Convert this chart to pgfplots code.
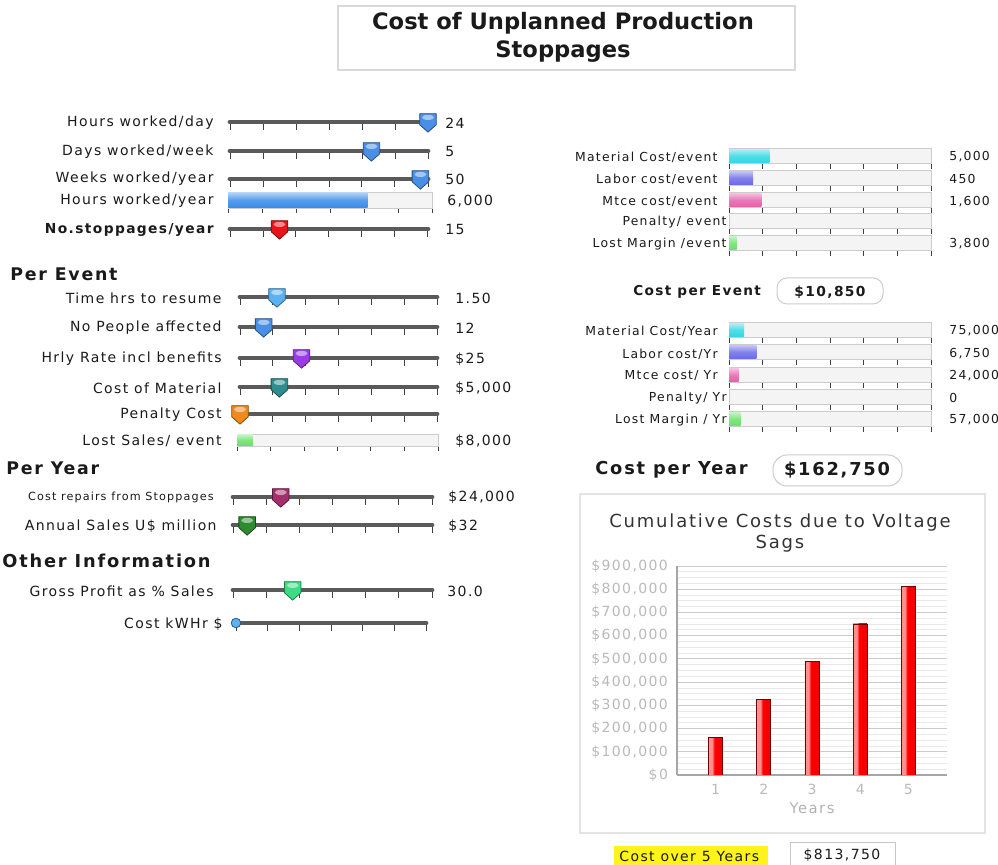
\documentclass[border=0pt]{standalone}
\usepackage{fontspec}
\setmainfont{DejaVu Sans}[LetterSpace=10]
\newfontfamily\tight{DejaVu Sans}
\usepackage{pgfplots}
\pgfplotsset{compat=1.18}

\newcommand\px[2]{({(#1)*0.5pt},{-(#2)*0.5pt})}
\newcommand\fs[1]{\fontsize{#1}{#1}\selectfont}

\definecolor{txt}{HTML}{1A1A1A}
\definecolor{kblue}{HTML}{4A8FE6}
\definecolor{klblue}{HTML}{5BB2F2}
\definecolor{kred}{HTML}{E8141A}
\definecolor{kpurple}{HTML}{9A3CE6}
\definecolor{kteal}{HTML}{2E8E8E}
\definecolor{korange}{HTML}{F08A1E}
\definecolor{kmaroon}{HTML}{A3306C}
\definecolor{kdgreen}{HTML}{2E8B30}
\definecolor{kgreen}{HTML}{3DDC84}
\definecolor{bblue}{HTML}{3A8CEA}
\definecolor{bgreen}{HTML}{6BE06B}
\definecolor{bcyan}{HTML}{2FD8E2}
\definecolor{bslate}{HTML}{6B6BE6}
\definecolor{bpink}{HTML}{E462AA}
\definecolor{track}{HTML}{5A5A5A}

\pgfdeclarehorizontalshading{redbar}{100bp}{color(0bp)=(red!50!black); color(8bp)=(red!40); color(38bp)=(red!45); color(46bp)=(red); color(86bp)=(red!92!black); color(100bp)=(red!45!black)}

\pgfdeclareplotmark{knob}{%
  \begin{pgfscope}%
  \pgfsetcornersarced{\pgfqpoint{1.1pt}{1.1pt}}%
  \pgfpathmoveto{\pgfqpoint{0pt}{0.9\pgfplotmarksize}}%
  \pgfpathlineto{\pgfqpoint{0.9\pgfplotmarksize}{0.9\pgfplotmarksize}}%
  \pgfpathlineto{\pgfqpoint{0.9\pgfplotmarksize}{-0.3\pgfplotmarksize}}%
  \pgfpathlineto{\pgfqpoint{0pt}{-1.1\pgfplotmarksize}}%
  \pgfpathlineto{\pgfqpoint{-0.9\pgfplotmarksize}{-0.3\pgfplotmarksize}}%
  \pgfpathlineto{\pgfqpoint{-0.9\pgfplotmarksize}{0.9\pgfplotmarksize}}%
  \pgfpathclose
  \pgfusepathqfillstroke
  \end{pgfscope}%
  \begin{pgfscope}%
  \pgfsetfillopacity{0.5}\pgfsetfillcolor{white}%
  \pgfpathellipse{\pgfqpoint{0pt}{0.5\pgfplotmarksize}}{\pgfqpoint{0.65\pgfplotmarksize}{0pt}}{\pgfqpoint{0pt}{0.28\pgfplotmarksize}}%
  \pgfusepathqfill
  \end{pgfscope}%
}

\pgfplotsset{
  slider/.style={scale only axis, height=2pt, anchor=south west, xmin=0, ymin=0, ymax=1,
    axis x line=bottom, axis y line=none, ytick=\empty,
    x axis line style={-, line width=2.4pt, line cap=round, color=track},
    xticklabels={,,,,,,,}, scaled x ticks=false, tick align=outside, major tick length=3.9pt,
    tick style={black!75, line width=0.5pt}, clip=false},
  pbar/.style={scale only axis, anchor=south west, xmin=0, ymin=0, ymax=1,
    axis background/.style={fill=gray!9}, axis line style={gray!40, line width=0.4pt},
    ytick=\empty, xticklabels={,,,,,,,}, scaled x ticks=false, tick align=outside, xtick pos=bottom,
    major tick length=2.6pt, tick style={black!75, line width=0.5pt}, clip=false},
  redbars/.style={ybar, bar width=7pt, bar shift=0pt, shade, shading=redbar, draw=red!45!black, line width=0.3pt, mark=none},
}

\newcommand\ticklist[1]{%
  \begingroup
  \pgfkeys{/pgf/fpu=true,/pgf/fpu/output format=fixed}%
  \pgfmathsetmacro\ta{#1/6}\pgfmathsetmacro\tb{#1/3}\pgfmathsetmacro\tc{#1/2}%
  \pgfmathsetmacro\td{2*#1/3}\pgfmathsetmacro\te{5*#1/6}%
  \xdef\tlist{0,\ta,\tb,\tc,\td,\te,#1}%
  \endgroup}

% #1 x0, #2 x1, #3 y, #4 max, #5 value, #6 colour
\newcommand\slider[6]{%
  \pgfmathsetlengthmacro\sw{((#2)-(#1))*0.5pt}%
  \pgfmathsetlengthmacro\ax{(#1)*0.5pt}%
  \pgfmathsetlengthmacro\ay{-(#3)*0.5pt}%
  \ticklist{#4}%
  \begin{axis}[slider, at={(\ax,\ay)}, width=\sw, xmax=#4, xtick/.expanded={\tlist}]
    \addplot[only marks, mark=knob, mark size=4.6pt, mark options={fill=#6, draw=#6!55!black, line width=0.4pt}] coordinates {(#5,0)};
  \end{axis}}

% #1 x0, #2 x1, #3 y centre, #4 max, #5 value, #6 colour, #7 height px
\newcommand\pbar[7]{%
  \pgfmathsetlengthmacro\sw{((#2)-(#1))*0.5pt}%
  \pgfmathsetlengthmacro\sh{(#7)*0.5pt}%
  \pgfmathsetlengthmacro\bw{(#7)*0.5pt-0.8pt}%
  \pgfmathsetlengthmacro\ax{(#1)*0.5pt}%
  \pgfmathsetlengthmacro\ay{-((#3)+(#7)/2)*0.5pt}%
  \ticklist{#4}%
  \begin{axis}[pbar, at={(\ax,\ay)}, width=\sw, height=\sh, xmax=#4, xtick/.expanded={\tlist}]
    \ifnum#5=0 \else
    \addplot[xbar, bar width=\bw, draw=none, top color=#6!40, bottom color=#6, middle color=#6!85] coordinates {(#5,0.5)};
    \fi
  \end{axis}}

\begin{document}
\begin{tikzpicture}[text=txt]
\path[use as bounding box] \px{0}{0} rectangle \px{998}{865};

% ---------- title ----------
\draw[gray!30, line width=0.6pt] \px{338}{6} rectangle \px{795}{70};
\node[align=center, font={\tight\bfseries\fs{11.3pt}}, inner sep=0pt] at \px{563}{37} {Cost of Unplanned Production\\[2.6pt]Stoppages};

% ---------- left group 1 ----------
\begin{scope}[every node/.style={inner sep=0pt, font=\fs{7pt}}]
\node[anchor=east] at \px{214}{123} {Hours worked/day};
\node[anchor=east] at \px{214}{152} {Days worked/week};
\node[anchor=east] at \px{214}{179} {Weeks worked/year};
\node[anchor=east] at \px{214}{201} {Hours worked/year};
\node[anchor=east, font=\bfseries\fs{6.9pt}] at \px{214}{230} {No.stoppages/year};
\node[anchor=west] at \px{445}{123} {24};
\node[anchor=west] at \px{445}{152} {5};
\node[anchor=west] at \px{445}{179} {50};
\node[anchor=west] at \px{447}{201} {6,000};
\node[anchor=west] at \px{445}{230} {15};

\node[anchor=west, font=\bfseries\fs{8.7pt}] at \px{10}{274} {Per Event};
\node[anchor=east] at \px{222}{298} {Time hrs to resume};
\node[anchor=east] at \px{222}{328} {No People affected};
\node[anchor=east] at \px{222}{359} {Hrly Rate incl benefits};
\node[anchor=east] at \px{222}{388} {Cost of Material};
\node[anchor=east] at \px{222}{415} {Penalty Cost};
\node[anchor=east] at \px{222}{441} {Lost Sales/ event};
\node[anchor=west] at \px{455}{298} {1.50};
\node[anchor=west] at \px{455}{328} {12};
\node[anchor=west] at \px{455}{359} {\$25};
\node[anchor=west] at \px{455}{388} {\$5,000};
\node[anchor=west] at \px{455}{441} {\$8,000};

\node[anchor=west, font=\bfseries\fs{8.7pt}] at \px{6}{468} {Per Year};
\node[anchor=east, font=\fs{5.6pt}] at \px{214}{497} {Cost repairs from Stoppages};
\node[anchor=east] at \px{217}{526} {Annual Sales U\$ million};
\node[anchor=west] at \px{448}{497} {\$24,000};
\node[anchor=west] at \px{448}{526} {\$32};

\node[anchor=west, font=\bfseries\fs{8.9pt}] at \px{2}{561} {Other Information};
\node[anchor=east] at \px{214}{591} {Gross Profit as \% Sales};
\node[anchor=east] at \px{223}{624} {Cost kWHr \$};
\node[anchor=west] at \px{447}{591} {30.0};
\end{scope}

\slider{230}{428}{122}{24}{24}{kblue}
\slider{230}{428}{151}{7}{5}{kblue}
\slider{230}{428}{179}{52}{50}{kblue}
\pbar{228}{432}{200}{8760}{6000}{bblue}{16}
\slider{230}{428}{229}{60}{15}{kred}

\slider{240}{437}{297}{8}{1.5}{klblue}
\slider{240}{437}{327}{100}{12}{kblue}
\slider{240}{437}{358}{80}{25}{kpurple}
\slider{240}{437}{387}{25000}{5000}{kteal}
\slider{240}{437}{414}{10000}{0}{korange}
\pbar{237}{438}{440}{100000}{8000}{bgreen}{12}

\slider{233}{432}{497}{100000}{24000}{kmaroon}
\slider{233}{432}{525}{450}{32}{kdgreen}
\slider{233}{432}{590}{100}{30}{kgreen}

\ticklist{1}
\begin{axis}[slider, at={(118pt,-311.5pt)}, width=95pt, xmax=1, xtick/.expanded={\tlist}]
  \addplot[only marks, mark=*, mark size=2.4pt, mark options={fill=klblue, draw=kblue!60!black, line width=0.4pt}] coordinates {(0,0)};
\end{axis}

% ---------- right: per event ----------
\begin{scope}[every node/.style={inner sep=0pt, font=\fs{6.2pt}}]
\node[anchor=east] at \px{718}{157} {Material Cost/event};
\node[anchor=east] at \px{718}{179} {Labor cost/event};
\node[anchor=east] at \px{718}{202} {Mtce cost/event};
\node[anchor=east] at \px{727}{222} {Penalty/ event};
\node[anchor=east] at \px{727}{244} {Lost Margin /event};
\node[anchor=west] at \px{949}{157} {5,000};
\node[anchor=west] at \px{949}{179} {450};
\node[anchor=west] at \px{949}{202} {1,600};
\node[anchor=west] at \px{949}{244} {3,800};

\node[anchor=east] at \px{718}{331} {Material Cost/Year};
\node[anchor=east] at \px{718}{354} {Labor cost/Yr};
\node[anchor=east] at \px{718}{376} {Mtce cost/ Yr};
\node[anchor=east] at \px{727}{398} {Penalty/ Yr};
\node[anchor=east] at \px{727}{420} {Lost Margin / Yr};
\node[anchor=west] at \px{949}{331} {75,000};
\node[anchor=west] at \px{949}{354} {6,750};
\node[anchor=west] at \px{949}{376} {24,000};
\node[anchor=west] at \px{949}{398} {0};
\node[anchor=west] at \px{949}{420} {57,000};
\end{scope}

\pbar{729}{931}{156}{25000}{5000}{bcyan}{15}
\pbar{729}{931}{178}{3750}{450}{bslate}{15}
\pbar{729}{931}{200}{10000}{1600}{bpink}{15}
\pbar{729}{931}{221}{10000}{0}{bpink}{15}
\pbar{729}{931}{243}{100000}{3800}{bgreen}{15}

\pbar{729}{931}{330}{1000000}{75000}{bcyan}{15}
\pbar{729}{931}{352}{50000}{6750}{bslate}{15}
\pbar{729}{931}{375}{500000}{24000}{bpink}{15}
\pbar{729}{931}{397}{10000}{0}{bpink}{15}
\pbar{729}{931}{419}{1000000}{57000}{bgreen}{15}

% ---------- totals ----------
\node[anchor=west, inner sep=0pt, font=\bfseries\fs{6.8pt}] at \px{633}{292} {Cost per Event};
\draw[gray!40, line width=0.5pt, rounded corners=5pt] \px{777}{278} rectangle \px{883}{304};
\node[inner sep=0pt, font=\bfseries\fs{6.9pt}] at \px{830}{292} {\$10,850};

\node[anchor=west, inner sep=0pt, font=\bfseries\fs{8.9pt}] at \px{595}{470} {Cost per Year};
\draw[gray!40, line width=0.5pt, rounded corners=7pt] \px{773}{455} rectangle \px{902}{486};
\node[inner sep=0pt, font=\bfseries\fs{8.9pt}] at \px{837}{470} {\$162,750};

% ---------- chart panel ----------
\draw[gray!22, line width=0.6pt] \px{580}{494} rectangle \px{985}{833};
\node[align=center, inner sep=0pt, text=black!80, font=\fs{9pt}] at \px{780}{533} {Cumulative Costs due to Voltage\\[1.5pt]Sags};

\begin{axis}[at={(338.5pt,-387.5pt)}, anchor=south west, scale only axis,
  width=135pt, height=104.5pt,
  xmin=0.2, xmax=5.8, ymin=0, ymax=900000,
  xtick={1,2,3,4,5}, ytick={0,100000,...,900000},
  minor y tick num=3, ymajorgrids, yminorgrids,
  major grid style={gray!40, line width=0.5pt},
  minor grid style={gray!18, line width=0.4pt},
  axis lines=left, axis line style={-, gray!70, line width=0.6pt},
  major tick length=0pt, minor tick length=0pt,
  scaled y ticks=false,
  /pgf/number format/assume math mode=true,
  /pgf/number format/.cd, fixed, 1000 sep={,}, /pgfplots/.cd,
  yticklabel={\$\pgfmathprintnumber{\tick}},
  ticklabel style={font=\fs{7pt}, text=gray!55},
  yticklabel style={xshift=-1pt},
  xticklabel style={yshift=-1pt},
  xlabel={Years}, xlabel style={font=\fs{7.4pt}, text=gray!60, yshift=3pt},
]
\addplot[redbars] coordinates {(1,162750)};
\addplot[redbars] coordinates {(2,325500)};
\addplot[redbars] coordinates {(3,488250)};
\addplot[redbars] coordinates {(4,651000)};
\addplot[redbars] coordinates {(5,813750)};
\end{axis}

% ---------- bottom ----------
\fill[yellow!90!white] \px{614}{846} rectangle \px{768}{865};
\node[anchor=west, inner sep=0pt, font=\fs{7pt}] at \px{619}{856} {Cost over 5 Years};
\draw[gray!45, line width=0.5pt] \px{790}{843} rectangle \px{895}{866};
\node[inner sep=0pt, font=\fs{7pt}] at \px{842}{855} {\$813,750};
\end{tikzpicture}
\end{document}
